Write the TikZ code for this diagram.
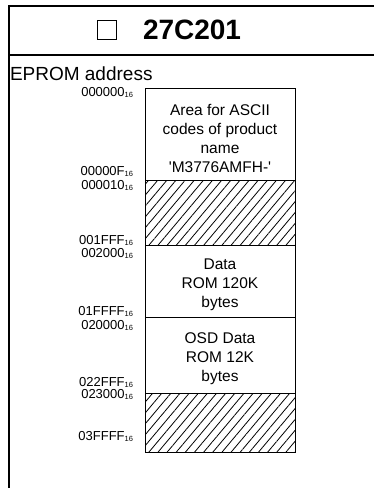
\documentclass[tikz,border=0pt]{standalone}
\usepackage{fontspec}
\setmainfont{Liberation Sans}
\usetikzlibrary{positioning,patterns.meta}

\newcommand{\hexaddr}[1]{#1\raisebox{-1pt}{\fontsize{7.5}{7.5}\selectfont 16}}

\begin{document}
\begin{tikzpicture}[x=1pt,y=-1pt,every node/.style={inner sep=0pt, outer sep=0pt},addr/.style={anchor=east, font=\fontsize{13}{13}\selectfont}, celltext/.style={align=center, font=\fontsize{15.5}{19}\selectfont}, hatch/.style={pattern={Lines[angle=50,distance=7pt,line width=0.8pt]}}]
\useasboundingbox (0,0) rectangle (374,488);
% frame
\draw[line width=2pt] (374,6) -- (9,6) -- (9,488);
\draw[line width=1.5pt] (9,55) -- (374,55);
\node[draw, line width=0.6pt, minimum size=19pt] (chk) at (107,30) {};
\node[font=\bfseries\fontsize{28}{28}\selectfont, anchor=west] (title) at (143,30) {27C201};
\node[font=\fontsize{19}{19}\selectfont, anchor=base west] (eprom) at (10,80) {EPROM address};
% memory map
\draw[line width=0.8pt] (145,88) rectangle (295,180);
\draw[line width=0.8pt, hatch] (145,180) rectangle (295,245);
\draw[line width=0.8pt] (145,245) rectangle (295,317);
\draw[line width=0.8pt] (145,317) rectangle (295,393);
\draw[line width=0.8pt, hatch] (145,393) rectangle (295,452);
\node[celltext] (ascii) at (220,138) {Area for ASCII\\codes of product\\name\\\textquotesingle M3776AMFH-\textquotesingle};
\node[celltext] (data) at (220,285) {Data\\ROM 120K\\bytes};
\node[celltext] (osd) at (220,359) {OSD Data\\ROM 12K\\bytes};
% addresses
\node[addr] (a0) at (133,92) {\hexaddr{000000}};
\node[addr] (a1) at (133,171) {\hexaddr{00000F}};
\node[addr] (a2) at (133,185) {\hexaddr{000010}};
\node[addr] (a3) at (133,240) {\hexaddr{001FFF}};
\node[addr] (a4) at (133,253) {\hexaddr{002000}};
\node[addr] (a5) at (133,311) {\hexaddr{01FFFF}};
\node[addr] (a6) at (133,325) {\hexaddr{020000}};
\node[addr] (a7) at (133,382) {\hexaddr{022FFF}};
\node[addr] (a8) at (133,394) {\hexaddr{023000}};
\node[addr] (a9) at (133,436) {\hexaddr{03FFFF}};
\end{tikzpicture}
\end{document}
